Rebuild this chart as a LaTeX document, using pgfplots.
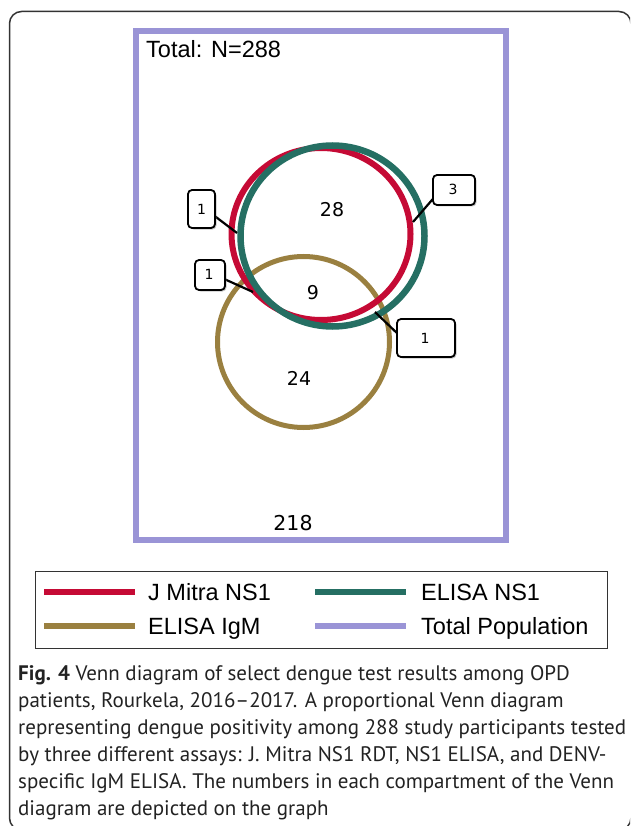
\documentclass[border=0pt]{standalone}
\usepackage{pgfplots}
\pgfplotsset{compat=1.18}
\usetikzlibrary{shadows}
\usepackage{fontspec}
\setmainfont{PT Sans}
\newfontfamily\arialf{Liberation Sans}
\newfontfamily\dejavu{DejaVu Sans}
\definecolor{jmred}{HTML}{C50A35}
\definecolor{elteal}{HTML}{256F63}
\definecolor{igmgold}{HTML}{9A8040}
\definecolor{totpurple}{HTML}{9A94D6}
\definecolor{captxt}{HTML}{222222}
\begin{document}
\begin{tikzpicture}
\begin{axis}[width=630pt,height=826pt,scale only axis,
  xmin=0,xmax=630,ymin=0,ymax=826,y dir=reverse,hide axis,clip=true]
% outer frame
\draw[black!80,line width=1.5pt,rounded corners=12pt] (axis cs:9.5,11.5) rectangle (axis cs:631,830);
% total population rectangle
\draw[totpurple,line width=6pt,line join=miter] (axis cs:135.5,31) rectangle (axis cs:506,539.5);
% Venn circles (centre x, centre y, radii, in pixels)
\draw[igmgold,line width=5pt] (axis cs:303.5,342) ellipse [x radius=86, y radius=85.5];
\draw[jmred,line width=6pt] (axis cs:321,234) ellipse [x radius=89.5, y radius=86];
\draw[elteal,line width=6.5pt] (axis cs:332.5,236) ellipse [x radius=92, y radius=90.5];
% counts
\node[font=\fontsize{23.5}{23.5}\selectfont\arialf,anchor=base west,inner sep=0pt] at (axis cs:146,58) {Total: N=288};
\node[font=\fontsize{19}{19}\selectfont\dejavu] at (axis cs:332,210) {28};
\node[font=\fontsize{19}{19}\selectfont\dejavu] at (axis cs:313,293) {9};
\node[font=\fontsize{19}{19}\selectfont\dejavu] at (axis cs:299,378) {24};
\node[font=\fontsize{20.5}{20.5}\selectfont\dejavu] at (axis cs:293,523) {218};
% callouts
\tikzset{callout/.style={draw=black,line width=1.8pt,fill=white,rounded corners=4pt,
  drop shadow={shadow xshift=1.5pt,shadow yshift=-1.5pt,opacity=0.45}},
  ptr/.style={black,line width=2.2pt},
  cnum/.style={font=\fontsize{14}{14}\selectfont\dejavu}}
\draw[ptr] (axis cs:212,214) -- (axis cs:237,233);
\draw[callout] (axis cs:188,190) rectangle (axis cs:215,228);
\node[cnum] at (axis cs:201.5,209) {1};
\draw[ptr] (axis cs:438,193) -- (axis cs:413,222);
\draw[callout] (axis cs:433,175) rectangle (axis cs:475,205);
\node[cnum] at (axis cs:453,189) {3};
\draw[ptr] (axis cs:222,278) -- (axis cs:253,292);
\draw[callout] (axis cs:195,260) rectangle (axis cs:225,290);
\node[cnum] at (axis cs:209,274) {1};
\draw[ptr] (axis cs:400,336) -- (axis cs:375,312);
\draw[callout] (axis cs:397,319) rectangle (axis cs:455,357);
\node[cnum] at (axis cs:425,338) {1};
% legend
\draw[black!80,line width=1pt] (axis cs:35,571) rectangle (axis cs:607,648);
\addplot[jmred,line width=6pt] coordinates {(44,592) (135,592)};
\addplot[igmgold,line width=6pt] coordinates {(44,626) (135,626)};
\addplot[elteal,line width=6pt] coordinates {(315,592) (406,592)};
\addplot[totpurple,line width=6pt] coordinates {(315,626) (406,626)};
\begin{scope}[every node/.style={font=\fontsize{23.5}{23.5}\selectfont\arialf,anchor=base west,inner sep=0pt}]
\node at (axis cs:148,600) {J Mitra NS1};
\node at (axis cs:148,634) {ELISA IgM};
\node at (axis cs:421,600) {ELISA NS1};
\node at (axis cs:421,634) {Total Population};
\end{scope}
% caption
\begin{scope}[every node/.style={font=\fontsize{21}{21}\selectfont,text=captxt,anchor=base west,inner sep=0pt}]
\node at (axis cs:18,680) {\textbf{Fig. 4} Venn diagram of select dengue test results among OPD};
\node at (axis cs:18,707) {patients, Rourkela, 2016--2017. A proportional Venn diagram};
\node at (axis cs:18,734) {representing dengue positivity among 288 study participants tested};
\node at (axis cs:18,761) {by three different assays: J. Mitra NS1 RDT, NS1 ELISA, and DENV-};
\node at (axis cs:18,788) {specific IgM ELISA. The numbers in each compartment of the Venn};
\node at (axis cs:18,815) {diagram are depicted on the graph};
\end{scope}
\end{axis}
\pgfresetboundingbox
\path (0,0) rectangle (630pt,826pt);
\end{tikzpicture}
\end{document}
